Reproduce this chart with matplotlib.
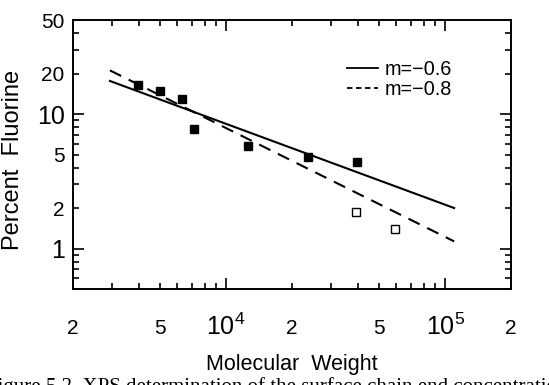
import math
import matplotlib
matplotlib.use("Agg")
import matplotlib.pyplot as plt
from matplotlib.ticker import LogLocator, FuncFormatter
from matplotlib.lines import Line2D

plt.rcParams['font.family'] = ['Liberation Sans', 'DejaVu Sans']
plt.rcParams['mathtext.fontset'] = 'custom'
plt.rcParams['mathtext.rm'] = 'Liberation Sans'
plt.rcParams['mathtext.it'] = 'Liberation Sans'

# Data
mw_filled = [3960, 5000, 6300, 7140, 12600, 23700, 39600]
pf_filled = [16.5, 14.8, 12.9, 7.7, 5.77, 4.78, 4.38]
mw_open = [39000, 59100]
pf_open = [1.86, 1.39]
fit_x = [2950, 110000]
fit_solid = [17.6, 2.0]     # m = -0.6
fit_dashed = [21.1, 1.13]   # m = -0.8
legend_labels = ['m=\u22120.6', 'm=\u22120.8']
caption = 'Figure 5.2. XPS determination of the surface chain end concentration'

fig = plt.figure(figsize=(5.49, 3.85), dpi=100)
ax = fig.add_axes([73/549, 1-289/385, 438/549, 269/385])
ax.set_xscale('log')
ax.set_yscale('log')
ax.set_xlim(2000, 200000)
ax.set_ylim(0.5, 50)

ax.plot(fit_x, fit_solid, color='black', lw=1.5)
ax.plot(fit_x, fit_dashed, color='black', lw=1.5, dashes=(6, 4))
ax.plot(mw_filled, pf_filled, 's', color='black', ms=6)
ax.plot(mw_open, pf_open, 's', mfc='white', mec='black', ms=5.5, mew=1.0)

for s in ax.spines.values():
    s.set_linewidth(1.4)

ax.xaxis.set_major_locator(LogLocator(base=10))
ax.xaxis.set_minor_locator(LogLocator(base=10, subs=range(2, 10)))
ax.yaxis.set_major_locator(LogLocator(base=10))
ax.yaxis.set_minor_locator(LogLocator(base=10, subs=range(2, 10)))

def mant(v):
    e = math.floor(math.log10(v) + 1e-9)
    return v / 10**e

def xmajor(v, pos):
    e = int(round(math.log10(v)))
    return r'$\mathregular{10^{%d}}$' % e

def xminor(v, pos):
    m = mant(v)
    if abs(m - 2) < 1e-6 or abs(m - 5) < 1e-6:
        return '%d' % round(m)
    return ''

def ymajor(v, pos):
    return '%g' % v

def yminor(v, pos):
    m = mant(v)
    if v > 1 and (abs(m - 2) < 1e-6 or abs(m - 5) < 1e-6):
        return '%g' % v
    return ''

ax.xaxis.set_major_formatter(FuncFormatter(xmajor))
ax.xaxis.set_minor_formatter(FuncFormatter(xminor))
ax.yaxis.set_major_formatter(FuncFormatter(ymajor))
ax.yaxis.set_minor_formatter(FuncFormatter(yminor))

ax.tick_params(which='both', direction='in', top=True, right=True, width=1.2)
ax.tick_params(which='major', length=8, labelsize=18)
ax.tick_params(which='minor', length=4.5, labelsize=15)
ax.tick_params(axis='x', which='major', pad=18)
ax.tick_params(axis='x', which='minor', pad=21.5)
ax.tick_params(axis='y', which='both', pad=6)

ax.set_xlabel('Molecular  Weight', fontsize=15.5)
ax.set_ylabel('Percent  Fluorine', fontsize=17)
ax.xaxis.set_label_coords(0.5, (289-354)/269)
ax.yaxis.set_label_coords((24-73)/438, (289-160)/269)

handles = [Line2D([], [], color='black', lw=1.3),
           Line2D([], [], color='black', lw=1.3, dashes=(3, 2))]
ax.legend(handles, legend_labels, loc='upper left', bbox_to_anchor=(0.625, 0.85),
          frameon=False, fontsize=14.3, handlelength=1.55, handletextpad=0.35,
          labelspacing=0.05, borderpad=0, borderaxespad=0)

fig.text(-0.0246, 1-377/385, caption,
         fontsize=15, family=['Liberation Serif', 'DejaVu Serif'], va='top', ha='left')

fig.savefig('out.png', dpi=100)
